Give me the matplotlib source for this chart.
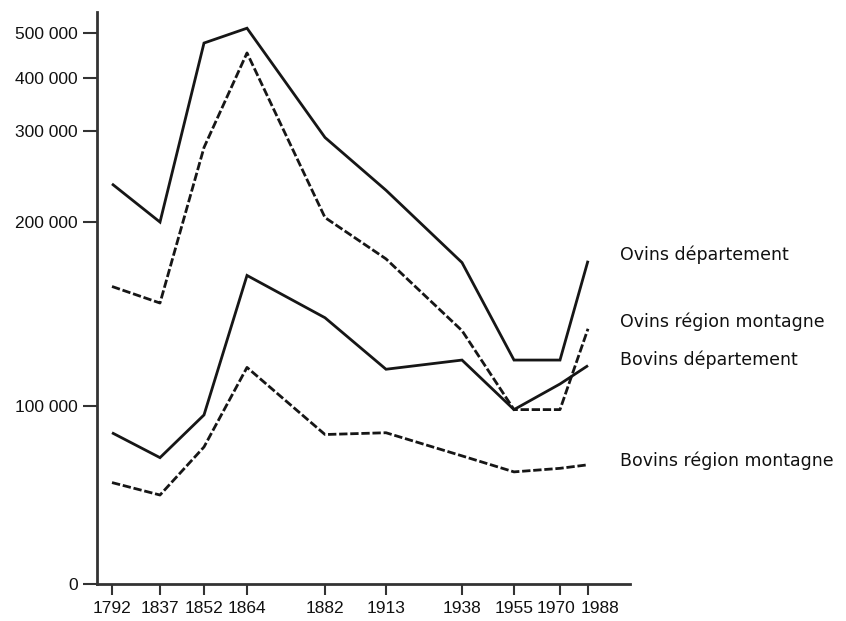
import numpy as np
import matplotlib
matplotlib.use("Agg")
import matplotlib.pyplot as plt
import matplotlib.transforms as mtransforms

# ── données ──────────────────────────────────────────────────────
YEARS = [1792, 1837, 1852, 1864, 1882, 1913, 1938, 1955, 1970, 1988]

ovins_dep      = [242000, 200000, 478000, 511000, 293000, 235000, 178000, 125000, 125000, 179000]
ovins_montagne = [165000, 156000, 282000, 456000, 205000, 180000, 141000,  98000,  98000, 142000]
bovins_dep     = [ 85000,  71000,  95000, 171000, 148000, 120000, 125000,  98000, 112000, 122000]
bovins_mont    = [ 57000,  50000,  77000, 121000,  84000,  85000,  72000,  63000,  65000,  67000]

SERIES = [
    ("Ovins département", ovins_dep, "-"),
    ("Ovins région montagne", ovins_montagne, (0, (3, 1))),
    ("Bovins département", bovins_dep, "-"),
    ("Bovins région montagne", bovins_mont, (0, (3, 1))),
]

Y_TICKS = [0, 100000, 200000, 300000, 400000, 500000]
Y_TICKLABELS = ["0", "100 000", "200 000", "300 000", "400 000", "500 000"]

# ── échelles irrégulières (axes dessinés à la main) ─────────────
XS_YEARS = [1780] + YEARS + [2000]
XS_POS = [97, 112, 160, 204, 247, 325, 386, 462, 514, 560, 588, 630]
YS_VAL = [0, 100000, 200000, 300000, 400000, 500000, 600000]
YS_POS = [0, 178, 362, 453, 506, 551, 596]


def xf(v):
    return np.interp(v, XS_YEARS, XS_POS)


def xi(p):
    return np.interp(p, XS_POS, XS_YEARS)


def yf(v):
    return np.interp(v, YS_VAL, YS_POS)


def yi(p):
    return np.interp(p, YS_POS, YS_VAL)


W, H = 846, 621
fig = plt.figure(figsize=(W / 100, H / 100), dpi=100)
ax = fig.add_axes([97 / W, (H - 584) / H, (630 - 97) / W, (584 - 12) / H])
ax.set_xscale("function", functions=(xf, xi))
ax.set_yscale("function", functions=(yf, yi))

INK = "#161616"
for label, vals, ls in SERIES:
    ax.plot(YEARS, vals, color=INK, lw=2.0, linestyle=ls,
            solid_joinstyle="miter", solid_capstyle="butt")

ax.set_xlim(1780, 2000)
ax.set_ylim(0, 547000)

ax.set_xticks(YEARS)
ax.set_xticklabels([str(y) for y in YEARS])
ax.set_yticks(Y_TICKS)
ax.set_yticklabels(Y_TICKLABELS)
ax.minorticks_off()

ax.tick_params(axis="both", direction="out", width=1.5,
               color="#333333", labelcolor="#111111")
ax.tick_params(axis="y", length=10, pad=4)
ax.tick_params(axis="x", length=8, pad=4)
for t in ax.get_xticklabels() + ax.get_yticklabels():
    t.set_fontfamily("Liberation Sans")
    t.set_fontsize(12.5)

# les deux derniers libellés sont serrés : on les écarte un peu
xlabels = ax.get_xticklabels()
for t, dx in [(xlabels[-2], -4), (xlabels[-1], 12)]:
    t.set_transform(t.get_transform() +
                    mtransforms.ScaledTranslation(dx / 100, 0, fig.dpi_scale_trans))

for side in ["top", "right"]:
    ax.spines[side].set_visible(False)
for side in ["left", "bottom"]:
    ax.spines[side].set_linewidth(2.0)
    ax.spines[side].set_color("#333333")

# étiquettes des courbes
LABEL_Y = [255, 322, 360, 461]
for (label, _, _), py in zip(SERIES, LABEL_Y):
    fig.text(620 / W, 1 - py / H, label, fontsize=12.5, color="#111111",
             ha="left", va="center")

fig.savefig("out.png", dpi=100)
